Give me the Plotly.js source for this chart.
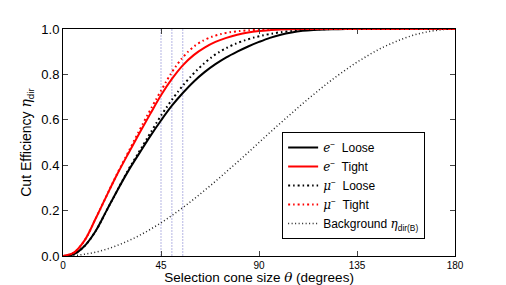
<!DOCTYPE html>
<html>
<head>
<meta charset="utf-8">
<script src="https://cdn.plot.ly/plotly-3.0.1.min.js"></script>
<style>html,body{margin:0;padding:0;background:#fff;}#chart{width:506px;height:285px;}</style>
</head>
<body>
<div id="chart"></div>
<script>
// Cone angle theta (degrees)
const theta = [0,5,10,15,20,25,30,35,40,45,50,55,60,65,70,75,80,85,90,95,100,105,110,115,120,125,130,135,140,145,150,155,160,165,170,175,180];
const eLoose = [0,0.008,0.045,0.11,0.2,0.29,0.375,0.452,0.527,0.597,0.662,0.718,0.768,0.81,0.845,0.875,0.9,0.923,0.943,0.961,0.975,0.985,0.992,0.996,0.998,0.999,1,1,1,1,1,1,1,1,1,1,1];
const eTight = [0,0.015,0.07,0.165,0.265,0.362,0.452,0.54,0.625,0.708,0.78,0.84,0.885,0.918,0.943,0.961,0.975,0.985,0.991,0.995,0.998,0.999,1,1,1,1,1,1,1,1,1,1,1,1,1,1,1];
const muLoose = [0,0.008,0.045,0.11,0.2,0.29,0.38,0.46,0.54,0.618,0.688,0.75,0.804,0.85,0.888,0.916,0.938,0.955,0.968,0.978,0.986,0.991,0.995,0.998,0.999,1,1,1,1,1,1,1,1,1,1,1,1];
const muTight = [0,0.015,0.07,0.165,0.265,0.365,0.458,0.552,0.642,0.728,0.81,0.875,0.922,0.952,0.971,0.983,0.99,0.994,0.997,0.999,1,1,1,1,1,1,1,1,1,1,1,1,1,1,1,1,1];
const background = [0,0.002,0.008,0.017,0.03,0.047,0.067,0.09,0.117,0.146,0.179,0.213,0.25,0.289,0.329,0.371,0.413,0.456,0.5,0.544,0.587,0.629,0.671,0.711,0.75,0.787,0.821,0.854,0.883,0.91,0.933,0.953,0.97,0.983,0.992,0.998,1];
const cutAngles = [45,50,55];
const xTicks = [0,45,90,135,180];
const yTicks = [0.0,0.2,0.4,0.6,0.8,1.0];

const M = s => '<span style="font-family:\'DejaVu Serif\';font-style:italic">' + s + '</span>';
const names = [
  M('e') + '<sup>−</sup>  Loose',
  M('e') + '<sup>−</sup>  Tight',
  M('μ') + '<sup>−</sup>  Loose',
  M('μ') + '<sup>−</sup>  Tight',
  'Background ' + M('η') + '<sub>dir(B)</sub>'
];

const traces = [];
cutAngles.forEach(a => {
  traces.push({x:[a,a], y:[0,1], mode:'lines', showlegend:false, hoverinfo:'skip',
    line:{color:'rgba(120,120,205,0.55)', width:1, dash:'2px,1px'}});
});
traces.push({x:theta, y:background, name:names[4], mode:'lines', line:{color:'#222', width:1.5, dash:'1px,2.5px', shape:'spline'}});
traces.push({x:theta, y:eLoose, name:names[0], mode:'lines', line:{color:'#000', width:2, shape:'spline'}});
traces.push({x:theta, y:eTight, name:names[1], mode:'lines', line:{color:'#ff0000', width:2, shape:'spline'}});
traces.push({x:theta, y:muLoose, name:names[2], mode:'lines', line:{color:'#000', width:2, dash:'2px,3px,1.5px,3px', shape:'spline'}});
traces.push({x:theta, y:muTight, name:names[3], mode:'lines', line:{color:'#ff0000', width:2, dash:'2px,3px,1.5px,3px', shape:'spline'}});

const layout = {
  width:506, height:285,
  margin:{l:63, r:51, t:29, b:29},
  paper_bgcolor:'#fff', plot_bgcolor:'#fff',
  font:{family:'Liberation Sans, Arial, sans-serif', color:'#000'},
  showlegend:true,
  legend:{x:0.559, y:0.546, xanchor:'left', yanchor:'top', bordercolor:'#000', borderwidth:1,
    bgcolor:'#fff', font:{size:12}, traceorder:'normal', itemwidth:30},
  xaxis:{range:[0,180], tickvals:xTicks, ticktext:xTicks.map(String), ticks:'inside', ticklen:5,
    showline:true, linecolor:'#000', linewidth:1, mirror:'ticks', showgrid:false, zeroline:false,
    automargin:false,
    tickfont:{size:10}, title:{text:'Selection cone size ' + M('θ') + ' (degrees)', font:{size:13.5}, standoff:8}},
  yaxis:{range:[0,1], tickvals:yTicks, ticktext:yTicks.map(v=>v.toFixed(1)), ticks:'inside', ticklen:5,
    showline:true, linecolor:'#000', linewidth:1, mirror:'ticks', showgrid:false, zeroline:false,
    tickfont:{size:13}, title:{text:'Cut Efficiency ' + M('η') + '<sub>dir</sub>', font:{size:14}, standoff:6}}
};

// legend order: e Loose, e Tight, mu Loose, mu Tight, Background
const order = [4,5,6,7,3];
traces.forEach((t,i)=>{ const k = order.indexOf(i); if(k>=0) t.legendrank = k+1; });

Plotly.newPlot('chart', traces, layout, {displayModeBar:false, staticPlot:true});
</script>
</body>
</html>
